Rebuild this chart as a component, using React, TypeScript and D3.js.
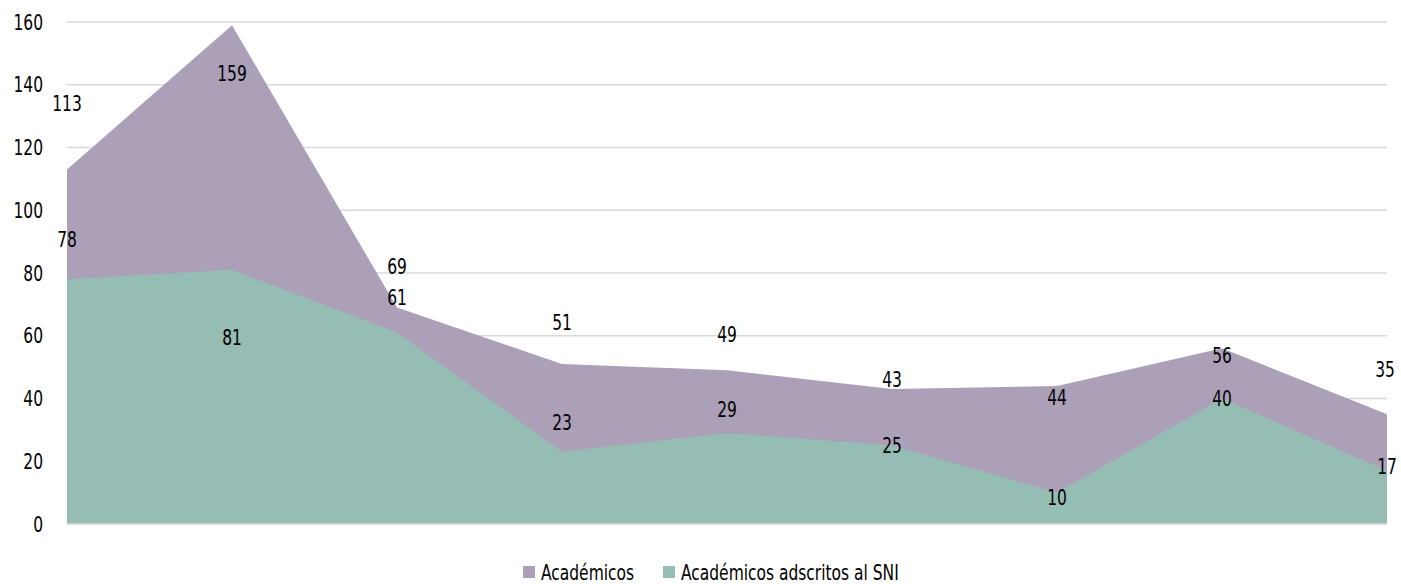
import * as React from 'react';
import * as d3 from 'd3';

const categories = ['1', '2', '3', '4', '5', '6', '7', '8', '9'];
const academicos = [113, 159, 69, 51, 49, 43, 44, 56, 35];
const sni = [78, 81, 61, 23, 29, 25, 10, 40, 17];
const yTicks = [0, 20, 40, 60, 80, 100, 120, 140, 160];
const seriesNames = ['Académicos', 'Académicos adscritos al SNI'];

// label nudges (px), as Excel placed them
const acadLabelDy = [-66, 48, -41, -42, -36, -10, 11, 7, -45];
const acadLabelDx = [0, 0, 0, 0, 0, 0, 0, 0, -2];
const sniLabelDy = [-40, 68, -35, -29, -24, 0, 5, 0, -4];

const W = 1401;
const H = 584;
const margin = { top: 22, right: 14, bottom: 60, left: 67 };
const purple = '#aba0b8';
const green = '#95bdb3';
const font = '"DejaVu Sans", sans-serif';
const fs = 21;
const squeeze = 0.82;

// narrow text: the original face is a condensed one
function Label(props: { x: number, y: number, anchor?: string, children: any }) {
    return (
        <text transform={`translate(${props.x},${props.y}) scale(${squeeze},1)`} dy="0.36em"
            textAnchor={props.anchor || 'middle'} fontSize={fs} fill="#000">{props.children}</text>
    );
}

export default function App() {
    const innerW = W - margin.left - margin.right;
    const innerH = H - margin.top - margin.bottom;

    const x = d3.scalePoint<string>().domain(categories).range([0, innerW]);
    const y = d3.scaleLinear().domain([0, 160]).range([innerH, 0]);

    const area = d3.area<number>()
        .x((d, i) => x(categories[i]) as number)
        .y0(y(0))
        .y1((d) => y(d));

    return (
        <svg width={W} height={H} style={{ position: 'absolute', left: 0, top: 0, fontStretch: 'condensed' }} fontFamily={font}>
            <g transform={`translate(${margin.left},${margin.top})`}>
                {yTicks.map((t) => (
                    <g key={t}>
                        <line x1={0} x2={innerW} y1={y(t)} y2={y(t)} stroke="#d9d9d9" strokeWidth={1.5} />
                        <Label x={-24} y={y(t)} anchor="end">{t}</Label>
                    </g>
                ))}
                <path d={area(academicos) || ''} fill={purple} />
                <path d={area(sni) || ''} fill={green} />
                <line x1={0} x2={innerW} y1={y(0)} y2={y(0)} stroke="#d9d9d9" strokeWidth={1.5} />
                {academicos.map((v, i) => (
                    <Label key={'a' + i} x={(x(categories[i]) as number) + acadLabelDx[i]} y={y(v) + acadLabelDy[i]}>{v}</Label>
                ))}
                {sni.map((v, i) => (
                    <Label key={'s' + i} x={x(categories[i]) as number} y={y(v) + sniLabelDy[i]}>{v}</Label>
                ))}
            </g>
            <g transform="translate(523,566)">
                <rect x={0} y={0} width={12} height={12} fill={purple} />
                <Label x={18} y={6} anchor="start">{seriesNames[0]}</Label>
                <rect x={140} y={0} width={12} height={12} fill={green} />
                <Label x={158} y={6} anchor="start">{seriesNames[1]}</Label>
            </g>
        </svg>
    );
}
